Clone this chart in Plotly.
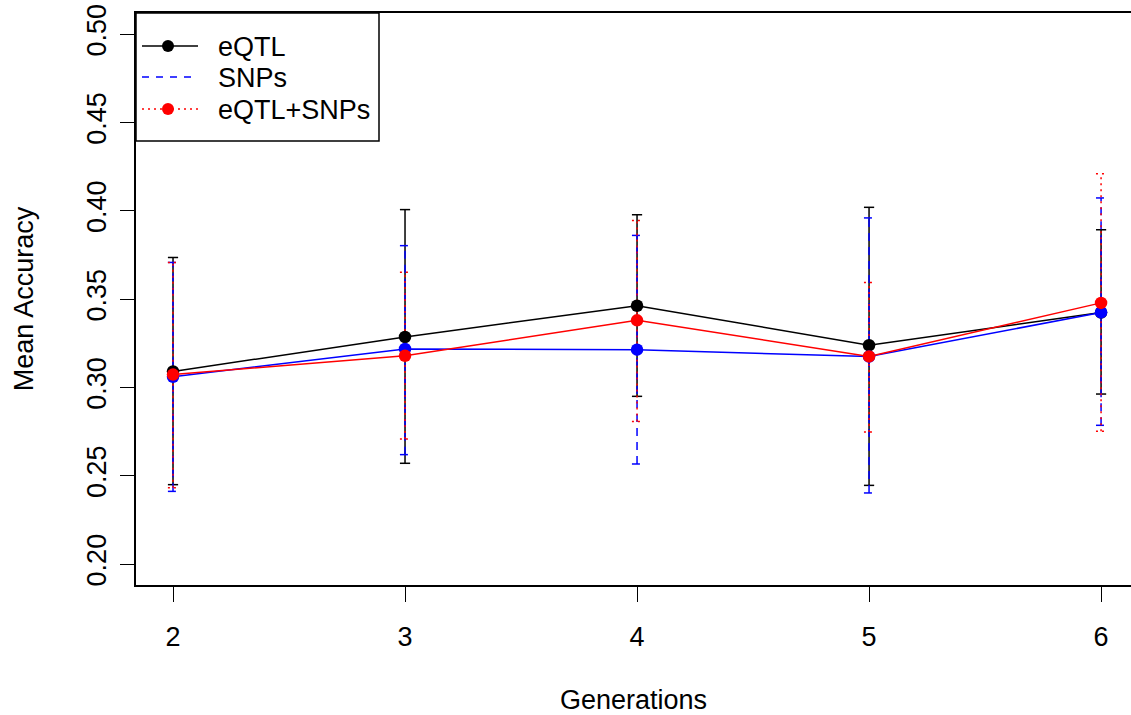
import plotly.graph_objects as go

generations = [2, 3, 4, 5, 6]

eqtl_mean = [0.3091, 0.3286, 0.3463, 0.3239, 0.3424]
eqtl_upper = [0.3736, 0.4007, 0.3978, 0.4020, 0.3893]
eqtl_lower = [0.2450, 0.2571, 0.2950, 0.2446, 0.2963]

snps_mean = [0.3061, 0.3218, 0.3214, 0.3175, 0.3425]
snps_upper = [0.3708, 0.3803, 0.3861, 0.3960, 0.4073]
snps_lower = [0.2412, 0.2620, 0.2567, 0.2403, 0.2786]

both_mean = [0.3073, 0.3180, 0.3380, 0.3176, 0.3479]
both_upper = [0.3708, 0.3652, 0.3946, 0.3595, 0.4210]
both_lower = [0.2433, 0.2709, 0.2808, 0.2748, 0.2752]

y_ticks = [0.20, 0.25, 0.30, 0.35, 0.40, 0.45, 0.50]
y_tick_labels = ["0.20", "0.25", "0.30", "0.35", "0.40", "0.45", "0.50"]

FONT = "Liberation Sans, Arial, Helvetica, sans-serif"
FS = 27
CAP = 0.022

W, H = 1131, 715
ML, MR, MT, MB = 136, 0, 13, 130
PW, PH = W - ML - MR, H - MT - MB


def px(xpix):
    return (xpix - ML) / PW


def py(ypix):
    return (H - MB - ypix) / PH


series = [
    ("eQTL", eqtl_mean, eqtl_upper, eqtl_lower, "black", "solid", True),
    ("SNPs", snps_mean, snps_upper, snps_lower, "blue", "8px,6px", False),
    ("eQTL+SNPs", both_mean, both_upper, both_lower, "red", "2px,4px", True),
]

fig = go.Figure()

for name, mean, up, lo, color, dash, _ in series:
    ex, ey = [], []
    for x, u, l in zip(generations, up, lo):
        ex += [x, x, None, x - CAP, x + CAP, None, x - CAP, x + CAP, None]
        ey += [l, u, None, u, u, None, l, l, None]
    fig.add_trace(go.Scatter(x=ex, y=ey, mode="lines",
                             line=dict(color=color, width=1.5, dash=dash),
                             showlegend=False, hoverinfo="skip",
                             name=name + " error"))

for name, mean, up, lo, color, dash, _ in series:
    fig.add_trace(go.Scatter(x=generations, y=mean, mode="lines+markers",
                             line=dict(color=color, width=1.5),
                             marker=dict(color=color, size=12.5),
                             showlegend=False, name=name))

# custom legend (box, line samples, markers, labels)
shapes = [dict(type="rect", xref="paper", yref="paper",
               x0=px(136), x1=px(379), y0=py(141), y1=py(13),
               line=dict(color="black", width=1.5), fillcolor="white",
               layer="above")]
annotations = []
legend_dash = {"solid": "solid", "8px,6px": "7px,7px", "2px,4px": "2px,4px"}
row_y = [46, 77, 109]
for (name, mean, up, lo, color, dash, show_marker), ry in zip(series, row_y):
    shapes.append(dict(type="line", xref="paper", yref="paper",
                       x0=px(142), x1=px(198), y0=py(ry), y1=py(ry),
                       line=dict(color=color, width=1.5, dash=legend_dash[dash]),
                       layer="above"))
    if show_marker:
        shapes.append(dict(type="circle", xref="paper", yref="paper",
                           x0=px(162), x1=px(174), y0=py(ry + 6), y1=py(ry - 6),
                           line=dict(color=color, width=0), fillcolor=color,
                           layer="above"))
    annotations.append(dict(xref="paper", yref="paper", x=px(216), y=py(ry + 1),
                            xanchor="left", yanchor="middle", showarrow=False,
                            text=name, font=dict(family=FONT, size=FS, color="black")))

fig.update_layout(
    width=W, height=H,
    margin=dict(l=ML, r=MR, t=MT, b=MB),
    paper_bgcolor="white", plot_bgcolor="white",
    font=dict(family=FONT, size=FS, color="black"),
    showlegend=False,
    shapes=shapes,
    annotations=annotations,
    xaxis=dict(range=[1.8405, 6.129], tickmode="array", tickvals=generations,
               ticktext=[str(g) for g in generations],
               showgrid=False, zeroline=False,
               showline=True, linecolor="black", linewidth=1.5, mirror=True,
               ticks="outside", ticklen=15, tickwidth=1.2, tickcolor="black",
               ticklabelstandoff=12,
               title=dict(text="Generations", standoff=40,
                          font=dict(family=FONT, size=FS))),
    yaxis=dict(range=[0.1882, 0.512], tickmode="array", tickvals=y_ticks,
               ticktext=y_tick_labels, tickangle=-90,
               showgrid=False, zeroline=False,
               showline=True, linecolor="black", linewidth=1.5, mirror=False,
               ticks="outside", ticklen=14, tickwidth=1.2, tickcolor="black",
               ticklabelstandoff=3,
               title=dict(text="Mean Accuracy", standoff=41,
                          font=dict(family=FONT, size=FS))),
)

fig.write_html("out.html")
